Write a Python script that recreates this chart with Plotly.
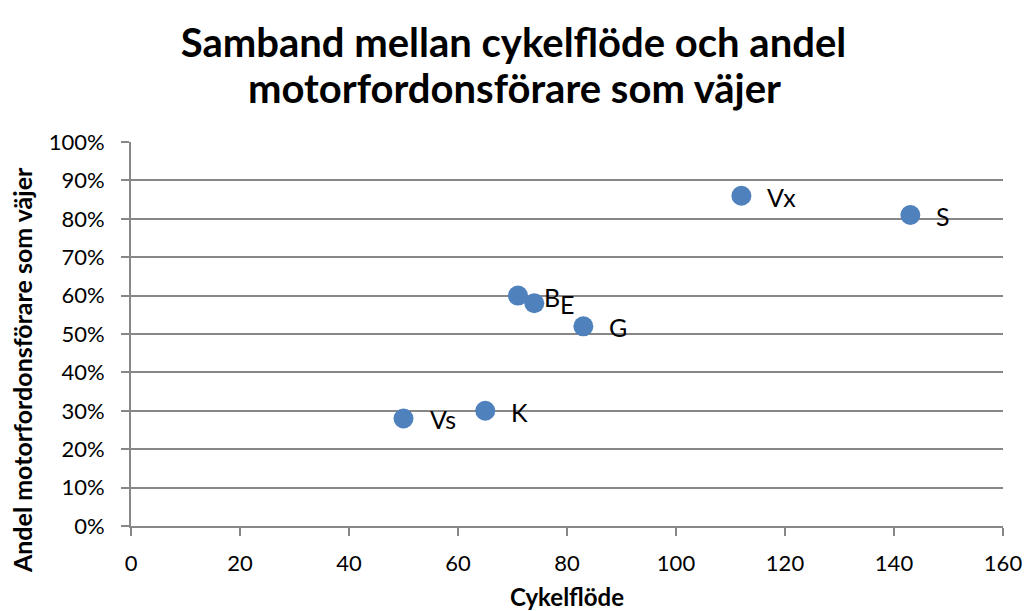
import plotly.graph_objects as go

# Data
labels = ["Vx", "S", "B", "E", "G", "K", "Vs"]
cykelflode = [112, 143, 71, 74, 83, 65, 50]
andel = [0.86, 0.81, 0.60, 0.58, 0.52, 0.30, 0.28]

x_ticks = [0, 20, 40, 60, 80, 100, 120, 140, 160]
y_ticks = [0, 0.1, 0.2, 0.3, 0.4, 0.5, 0.6, 0.7, 0.8, 0.9, 1.0]
y_tick_text = [f"{int(round(v*100))}%" for v in y_ticks]

title_line1 = "Samband mellan cykelflöde och andel"
title_line2 = "motorfordonsförare som väjer"
x_title = "Cykelflöde"
y_title = "Andel motorfordonsförare som väjer"

FONT = "Lato, 'Open Sans', sans-serif"
GRID = "#878787"

fig = go.Figure()
fig.add_trace(go.Scatter(
    x=cykelflode, y=andel, mode="markers",
    marker=dict(size=20, color="#4F81BD"),
    hoverinfo="skip", showlegend=False,
))

for lab, xv, yv in zip(labels, cykelflode, andel):
    fig.add_annotation(
        x=xv, y=yv, text=lab, showarrow=False,
        xanchor="left", yanchor="middle", xshift=24, yshift=-1,
        font=dict(family=FONT, size=25, color="black"),
    )

# second title line (tighter line spacing than Plotly's <br>)
fig.add_annotation(
    xref="paper", yref="paper", x=0.5, y=1, xanchor="center", yanchor="middle",
    yshift=54, xshift=-53, text=f"<b>{title_line2}</b>", showarrow=False,
    font=dict(family=FONT, size=40, color="black"),
)
# y-axis title
fig.add_annotation(
    xref="paper", yref="paper", x=0, y=0.406, xanchor="center", yanchor="middle",
    xshift=-109, textangle=-90, text=f"<b>{y_title}</b>", showarrow=False,
    font=dict(family=FONT, size=25, color="black"),
)

fig.update_layout(
    width=1027, height=611,
    paper_bgcolor="white", plot_bgcolor="white",
    margin=dict(l=131, r=24, t=142, b=85),
    title=dict(
        text=f"<b>{title_line1}</b>",
        x=0.5, xanchor="center", y=1 - 43 / 611, yanchor="middle",
        font=dict(family=FONT, size=40, color="black"),
    ),
    xaxis=dict(
        range=[0, 160], tickvals=x_ticks, ticktext=[str(v) for v in x_ticks],
        showgrid=False, zeroline=False, automargin=False,
        showline=True, linecolor=GRID, linewidth=2,
        ticks="outside", ticklen=8, tickcolor=GRID, tickwidth=1.5,
        ticklabelstandoff=9,
        tickfont=dict(family=FONT, size=22, color="black"),
        title=dict(text=f"<b>{x_title}</b>", font=dict(family=FONT, size=24, color="black"), standoff=26),
    ),
    yaxis=dict(
        range=[0, 1.0], tickvals=y_ticks, ticktext=y_tick_text,
        showgrid=True, gridcolor=GRID, gridwidth=1.5, zeroline=False, automargin=False,
        showline=True, linecolor=GRID, linewidth=2,
        ticks="outside", ticklen=8, tickcolor=GRID, tickwidth=1.5,
        ticklabelstandoff=12,
        tickfont=dict(family=FONT, size=22, color="black"),
    ),
)

fig.write_html("out.html", config={"displayModeBar": False},
               post_script="document.body.style.margin='0';")
